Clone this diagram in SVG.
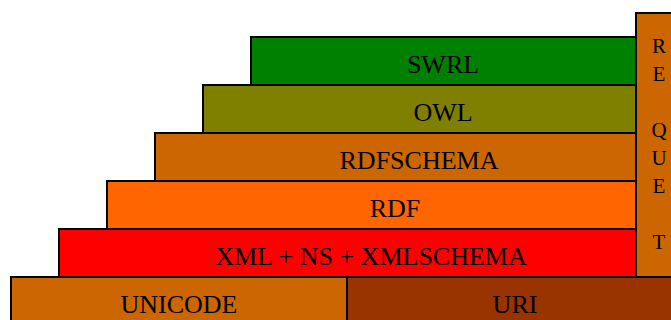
<svg xmlns="http://www.w3.org/2000/svg" width="671" height="320" viewBox="0 0 671 320">
<style>
rect{stroke:#000;stroke-width:2}
text{font-family:"Liberation Serif","Times New Roman",serif;font-size:26px;fill:#000;text-anchor:middle}
.v{font-size:21px}
</style>
<rect x="0" y="0" width="671" height="320" fill="#fff" style="stroke:none"/>
<g id="request"><rect x="636" y="13" width="48" height="264" fill="#CC6600"/>
<text class="v" x="659" y="53">R</text><text class="v" x="659" y="81">E</text><text class="v" x="659" y="137">Q</text><text class="v" x="659" y="165">U</text><text class="v" x="659" y="193">E</text><text class="v" x="659" y="249">T</text></g>
<g id="swrl"><rect x="251" y="37" width="385" height="48" fill="#008000"/><text x="443" y="73">SWRL</text></g>
<g id="owl"><rect x="203" y="85" width="433" height="48" fill="#808000"/><text x="443" y="121">OWL</text></g>
<g id="rdfschema"><rect x="155" y="133" width="481" height="48" fill="#CC6600"/><text x="419" y="169">RDFSCHEMA</text></g>
<g id="rdf"><rect x="107" y="181" width="529" height="48" fill="#FF6600"/><text x="395" y="217">RDF</text></g>
<g id="xml"><rect x="59" y="229" width="577" height="48" fill="#FF0000"/><text x="371" y="265">XML + NS + XMLSCHEMA</text></g>
<g id="unicode"><rect x="11" y="277" width="336" height="60" fill="#CC6600"/><text x="179" y="313">UNICODE</text></g>
<g id="uri"><rect x="347" y="277" width="340" height="60" fill="#993300"/><text x="515" y="313">URI</text></g>
<g id="connectors"></g>
</svg>
